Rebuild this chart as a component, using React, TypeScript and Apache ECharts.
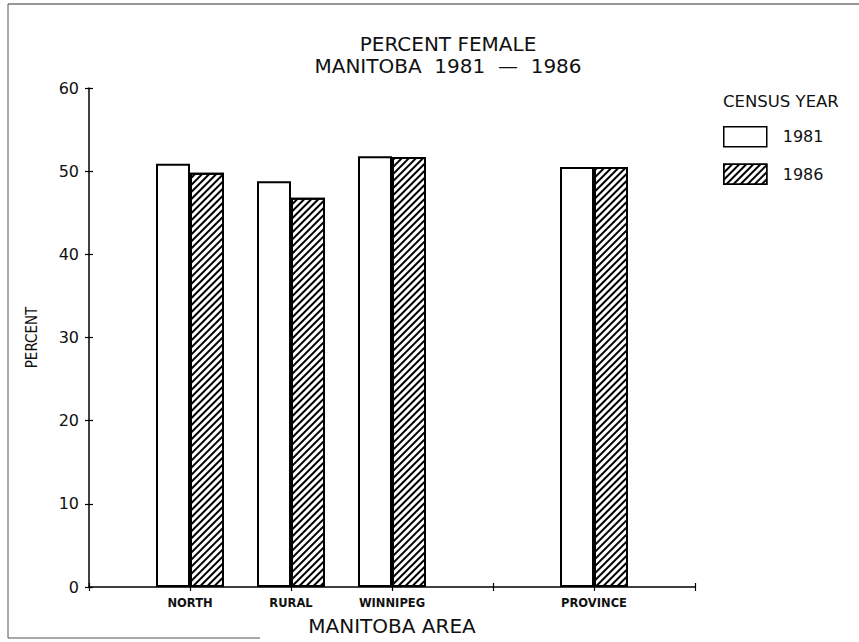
import React, { useEffect, useRef } from "react";
import * as echarts from "echarts";

// Axis slots (blank slots are the unlabeled tick positions)
const axisSlots = ["", "NORTH", "RURAL", "WINNIPEG", "", "PROVINCE", ""];
const areas = ["NORTH", "RURAL", "WINNIPEG", "PROVINCE"];
const female1981 = [50.9, 48.8, 51.8, 50.5];
const female1986 = [49.8, 46.8, 51.7, 50.5];
const seriesNames = ["1981", "1986"];
const yMin = 0;
const yMax = 60;
const yInterval = 10;

const titleLines = ["PERCENT FEMALE", "MANITOBA  1981  \u2014  1986"];
const legendTitle = "CENSUS YEAR";
const xAxisName = "MANITOBA AREA";
const yAxisName = "PERCENT";

const toSlots = (vals: number[]) =>
  axisSlots.map((s) => {
    const i = areas.indexOf(s);
    return i >= 0 ? vals[i] : null;
  });

const FONT = "'DejaVu Sans', 'Open Sans', sans-serif";
const INK = "#111";

export default function App() {
  const ref = useRef<HTMLDivElement>(null);
  useEffect(() => {
    if (!ref.current) return;
    const chart = echarts.init(ref.current, null, { renderer: "svg" });
    const hatch = {
      symbol: "rect",
      symbolSize: 1,
      dashArrayX: [1, 0],
      dashArrayY: [1.6, 2.8],
      rotation: -Math.PI / 4,
      color: "#000",
      backgroundColor: "#fff",
    };
    const option: any = {
      animation: false,
      backgroundColor: "#fff",
      title: {
        text: titleLines.join("\n"),
        left: 443,
        top: 28,
        textAlign: "center",
        textStyle: {
          fontFamily: FONT,
          fontSize: 20,
          fontWeight: "normal",
          color: INK,
          lineHeight: 22,
        },
      },
      legend: {
        orient: "vertical",
        left: 723,
        top: 126,
        itemWidth: 43,
        itemHeight: 20,
        itemGap: 16,
        padding: 0,
        icon: "rect",
        data: seriesNames,
        itemStyle: { borderColor: "#000", borderWidth: 1.5 },
        textStyle: {
          fontFamily: FONT,
          fontSize: 16,
          color: INK,
          padding: [4, 0, 0, 11],
        },
      },
      grid: { left: 89, right: 164, top: 88, bottom: 55 },
      xAxis: [
        {
          type: "category",
          data: axisSlots,
          boundaryGap: false,
          name: xAxisName,
          nameLocation: "middle",
          nameGap: 29,
          nameTextStyle: { fontFamily: FONT, fontSize: 20, color: INK },
          axisLine: { lineStyle: { color: "#000", width: 1.5 } },
          axisTick: { show: true, interval: 0, length: 4, lineStyle: { color: "#000", width: 1.2 } },
          axisLabel: {
            interval: 0,
            margin: 10,
            fontFamily: FONT,
            fontSize: 11.5,
            fontWeight: "bold",
            color: INK,
          },
          splitLine: { show: false },
        },
        {
          type: "category",
          data: axisSlots,
          boundaryGap: false,
          position: "bottom",
          axisLine: { show: false },
          axisTick: { show: true, inside: true, interval: 0, length: 4, lineStyle: { color: "#000", width: 1.2 } },
          axisLabel: { show: false },
          splitLine: { show: false },
        },
      ],
      yAxis: [
        {
          type: "value",
          min: yMin,
          max: yMax,
          interval: yInterval,
          name: yAxisName,
          nameLocation: "middle",
          nameRotate: 90,
          nameGap: 50,
          nameTextStyle: {
            fontFamily: "'DejaVu Sans Condensed', 'Liberation Sans Narrow', 'DejaVu Sans', sans-serif",
            fontSize: 15,
            color: INK,
          },
          axisLine: { show: true, lineStyle: { color: "#000", width: 1.5 } },
          axisTick: { show: true, length: 4, lineStyle: { color: "#000", width: 1.2 } },
          axisLabel: { margin: 10, fontFamily: FONT, fontSize: 16, color: INK },
          splitLine: { show: false },
        },
        {
          type: "value",
          min: yMin,
          max: yMax,
          interval: yInterval,
          position: "left",
          axisLine: { show: false },
          axisTick: { show: true, inside: true, length: 4, lineStyle: { color: "#000", width: 1.2 } },
          axisLabel: { show: false },
          splitLine: { show: false },
        },
      ],
      series: [
        {
          name: seriesNames[0],
          type: "bar",
          data: toSlots(female1981),
          barWidth: 34,
          barGap: "0%",
          itemStyle: { color: "#fff", borderColor: "#000", borderWidth: 2 },
        },
        {
          name: seriesNames[1],
          type: "bar",
          data: toSlots(female1986),
          barWidth: 34,
          barGap: "0%",
          itemStyle: { color: "#fff", borderColor: "#000", borderWidth: 2, decal: hatch },
        },
      ],
      graphic: [
        {
          type: "text",
          left: 723,
          top: 93,
          style: { text: legendTitle, fontFamily: FONT, fontSize: 16.5, fill: INK },
        },
        {
          type: "line",
          shape: { x1: 8, y1: 4, x2: 859, y2: 4 },
          style: { stroke: "#333", lineWidth: 1.2 },
        },
        {
          type: "line",
          shape: { x1: 8, y1: 4, x2: 8, y2: 638 },
          style: { stroke: "#555", lineWidth: 1 },
        },
        {
          type: "line",
          shape: { x1: 8, y1: 638, x2: 260, y2: 638 },
          style: { stroke: "#555", lineWidth: 1.2 },
        },
      ],
    };
    chart.setOption(option);
    return () => chart.dispose();
  }, []);
  return (
    <div
      ref={ref}
      style={{ position: "absolute", left: 0, top: 0, width: 859, height: 642 }}
    />
  );
}
